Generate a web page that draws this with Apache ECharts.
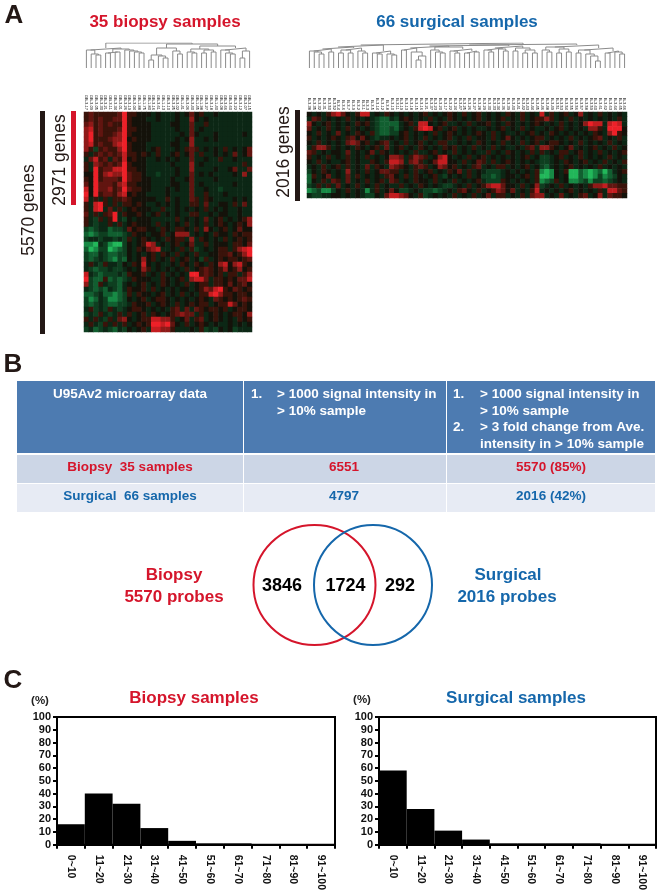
<!DOCTYPE html>
<html><head><meta charset="utf-8">
<script src="https://cdn.jsdelivr.net/npm/echarts@6/dist/echarts.min.js"></script>
<style>html,body{margin:0;padding:0;background:#fff}#c{width:660px;height:893px}</style>
</head><body><div id="c"></div>
<script>
// ---- Data ----
var binLabels = ['0~10','11~20','21~30','31~40','41~50','51~60','61~70','71~80','81~90','91~100'];
var biopsyPct = [16,40,32,13,3,1,1,0,0,0];
var surgicalPct = [58,28,11,4,1,1,1,1,0,0];
var tableHeader = ['U95Av2 microarray data','> 1000 signal intensity in','> 10% sample','> 3 fold change from Ave.','intensity in > 10% sample'];
var tableRowBiopsy = ['Biopsy  35 samples','6551','5570 (85%)'];
var tableRowSurgical = ['Surgical  66 samples','4797','2016 (42%)'];
var vennCounts = ['3846','1724','292'];

var biopsySamples = ['GB-3-17','GB-3-09','GB-3-05','GB-3-30','GB-3-21','GB-3-11','GB-3-34','GB-3-01','GB-3-26','GB-3-19','GB-3-04','GB-1-88','GB-1-75','GB-1-80','GB-3-16','GB-3-61','GB-1-13','GB-3-10','GB-3-25','GB-3-02','GB-1-41','GB-3-06','GB-3-40','GB-1-45','GB-1-98','GB-3-27','GB-3-18','GB-1-40','GB-3-08','GB-3-66','GB-3-60','GB-3-22','GB-3-12','GB-3-07','GB-3-15'];
var surgicalSamples = ['B-3-38','B-3-35','B-3-32','B-3-31','B-3-50','B-3-52','B-3-4','B-3-6','B-3-7','B-3-9','B-3-2','B-3-1','B-3-3','B-3-5','B-3-14','B-3-12','B-3-8','B-3-10','B-3-11','B-3-19','B-3-13','B-3-18','B-3-15','B-3-16','B-3-21','B-3-37','B-3-23','B-3-20','B-3-17','B-3-22','B-3-24','B-3-47','B-3-25','B-3-26','B-3-27','B-3-28','B-3-29','B-3-30','B-3-33','B-3-34','B-3-36','B-3-39','B-3-40','B-3-41','B-3-42','B-3-43','B-3-44','B-3-45','B-3-46','B-3-48','B-3-49','B-3-51','B-3-53','B-3-54','B-3-55','B-3-56','B-3-57','B-3-58','B-3-59','B-3-60','B-3-61','B-3-62','B-3-63','B-3-64','B-3-65','B-3-66'];

// heat levels: 0 = black, 1..5 = red, a..e = green (-1..-5)
var biopsyRows = [
"121111125 1100 0a0a aa0a 0201 aa0a aaaa aa",
"121211225 1000 aa0a aa0a a30a 0aaa aaaa aa",
"231212115 1000 0aaa a00a a2aa 1aaa aaaa aa",
"341211125 1100 0aaa aa0a a2a0 aaaa aaaa aa",
"351211235 1000 0aaa aaa0 a20a aa0a aaaa 0a",
"351112335 0100 0aaa aa0a 03aa 0a0a aaaa aa",
"341211345 1000 aaaa a00a a3aa aaaa aaaa aa",
"31b121135 1000 a01a aa0a 121a 0a0a 1a0a 02",
"1a1212124 1101 0a1a a01a 02a1 aa0a 0a2a 02",
"a2412a214 0100 aa0a 0a0a a2aa 0aa1 aa0a aa",
"1a3212125 1000 aaaa a0aa a3a0 aaaa aaaa 1a",
"1a5122445 1100 aaaa aa0a a3aa aa0a a02a a2",
"005134335 2110 aaba aa0a a2a0 a0aa aa0a 3a",
"105122215 2110 0aaa a0aa 02aa aa0a aaaa aa",
"205222134 1100 0aaa a00a a2a0 aaaa aa0a aa",
"405223125 2110 0aaa 0a0a a2aa 0aab aaaa aa",
"505122134 0100 aaaa 0aaa a2aa 1aaa 0aaa aa",
"4a1a1a112 1000 00aa 1a0a a21a 10aa aa0a 0a",
"1a451a1a1 1010 aa0a 0a0a a11a 2aa0 0a1a 2a",
"1a45a2a1a 0100 0aa1 aa0a 0a0a 1a0a 0aa0 aa",
"2a1a125a1 0010 a01a 0a0a a11a a0a0 0aa0 aa",
"1ab1a15ab 0a00 0aaa aa1a 0a0a 2a01 a0a0 13",
"1abaa1a1a 0100 0a1a 0a0a 1a0a 1a01 0a01 03",
"bcbaacbba 2011 00a1 0a11 0a1a 30a0 1a02 00",
"cdcbbcccb a100 a001 a033 3a0a 0a10 0a10 11",
"baabaabab 1a01 0a0a 1011 a3a1 0a0a 1a01 01",
"ddeabdeeb 0a01 43a0 a01a 02aa 1a00 0a11 02",
"cedbbedcb 0a10 234a a0a1 a1ba 0a01 1a13 45",
"bccabccbb 0a0a 01a1 0a1a 0a1a a001 1201 35",
"bcbabcdbc 0a03 01a0 a1a0 1a0b 1a01 0110 12",
"a1ab1aab0 a104 0a0a a0a1 0a10 a103 4034 10",
"abcbbabba 0a03 1a0a 0a0a 1a01 2101 3013 01",
"4abcbbbab 1001 a0a1 a0a0 a551 2101 a11a 13",
"5bcc1cbcb a100 0aa1 0a01 a344 2a11 0102 24",
"3bc1abbca 0a01 a0a1 0a0a 1a01 1a11 0201 20",
"abcbcabca 1001 a1a0 a0a0 0a01 3245 1021 01",
"ccbaccdcb 1a10 0a01 a0a1 a0a1 1453 1101 10",
"bdcabddcb 0a01 a011 0a0a 0a01 0a21 0101 21",
"bcbabccbb a100 1a01 0a1a 0101 1a01 1420 10",
"a1bab1aba 0110 a0a0 a12a 2a21 0110 1a01 10",
"bab1aba1a 1a01 a10a 0123 22a1 a010 a011 03",
"1a1ab1a23 0a01 1443 31a0 2a12 a010 a0a1 01",
"a1ab1a1a1 a010 1554 520a 1a01 0a0a a0a0 a0",
"bacbabcab 0a01 a443 31aa a0a1 bab0 a0ba aa"
];
var surgicalRows = [
"0a0a13 420a14 4a0a10 a0a0a0 1a0a01 0a1a01 a0a0a1 0a1a0a 4a1a01 a03a0a 1a0a0a",
"a21a0a 0a1a0a 0abcca b010a0 a1a0a1 0a0a01 a0a01a 0a1a01 131a0a 1a0a0a 0a0a1a",
"30a01a 0a0a10 1abccc ca01a4 40a01a a0a1a0 01a0a1 0a0a01 0a0a1a 0a0354 4a454a",
"2a0a1a 0a1a0a 0abccb ca0a14 5401a0 1a0a0a a0a01a 0a1a0a a0a01a 0a0a33 1a5550",
"0a1a0a 2a0a10 a1bccb b01a0a 0a1a01 0a0a01 0a1a0a a0a01a 0a10a0 a0a0a1 0a3510",
"1a0a01 0a1202 0abaa0 a01a0a 1a0a01 a0a1a0 0a1a02 0a0a01 1a0a0a 1a0a01 2a0a1a",
"0a1a0a 0a2320 1a012a 0a1a01 a0a11a a0a0a1 0a0a1a 0a1a01 a0110a 0a1a0a 0a1a0a",
"a1331a 0a0a10 a01a2a 01a0a1 0a0a10 1a0a1a 0a1a0a a0a12a 3310a0 2a0a01 a0a1a0",
"21a0a0 0a2a0a 02a10a 0a0a1a a01a0a 1a0a0a a1a0a1 0a0a1a 1a0a11 a01a0a 1a0a01",
"1a0a1a 0a1a0a 1a0a03 32a132 1a0340 a0a1a0 1a0a0a 0a01a0 bba01a 0a1a0a 0a1a0a",
"0a1a0a a01a0a a10a14 43a231 a02440 0a1a02 1a1a01 0a0a0a bba0a1 0a01a0 a1a0a1",
"a0a1a0 1a1a0a 2a10a3 210a12 1a0320 1a0a12 a0a11a 0a01a0 bca0a0 1a0a0a 1a0a0a",
"b0a10a 0a3a0a 1a0221 1a0a1a 01a0a1 02a1a0 abbba0 a0a0a1 ded0a1 eecded ceca01",
"c1a02a 0a2a1a 0a0a12 0a1a10 a01ab0 a0a1a0 bbcba0 0a01a1 eed0a0 eecded bdcb0a",
"c0a1a2 1a2a0a 1a01a2 1a0a10 0a1a0a 1a0a01 abbb10 a0a0a1 dcb1a0 ddcbdb bcba0a",
"ba1a1a 2a0a1a 0a1a0a a1a0a1 0a0abb a0a1a0 134420 0a1a03 ba0a1a 0a0a13 342211",
"dcbddb 0a1a0a da1a02 0bba0a bbcba0 a120a1 a01320 2a0a14 a0a0a0 1a0a0a 1a4421",
"abbaa0 0a0a0a bb0a24 4320a1 ba0a0a 1a0a1a 02a11a 0a1a23 3a0a2a 0a12a0 3a2110"
];

// dendrograms: [mergeHeight, left, right]; 0 is a leaf
var biopsyTree = [25,
  [20,[18,0,[14,0,[13,0,0]]],[19,[16,[15,0,0],[16,0,0]],[18,0,[17,0,[16,0,[15,0,0]]]]]],
  [24,[20,[13,[8,0,0],[12,0,[10,0,0]]],[17,0,[14,0,0]]],
      [22,[19,[16,0,[15,0,0]],[18,[15,0,0],[16,0,0]]],[20,[18,0,[15,0,[14,0,0]]],[17,[10,0,0],0]]]]];
var surgicalTree = [25,
  [23,[21,[19,[17,0,[16,0,[14,0,0]]],[16,0,0]],[20,[18,[15,0,0],[15,0,0]],[17,0,[15,0,0]]]],[17,[15,0,[14,0,0]],[14,0,[13,0,0]]]],
  [24,[23,[22,[20,[18,0,0],[16,0,[12,[8,0,0],0]]],[21,[18,0,[16,0,[15,0,0]]],[19,[17,0,[15,0,0]],[17,[15,0,0],[16,0,0]]]]],
          [22,[20,[18,0,[16,0,0]],[19,0,[17,0,0]]],[20,[17,0,0],[18,[15,0,0],[15,0,0]]]]],
      [23,[21,[18,0,[16,0,0]],[19,[15,0,0],[16,0,0]]],[20,[18,[15,0,0],[14,0,[12,0,[7,0,0]]]],[17,[15,0,0],[16,0,[14,0,0]]]]]]];

// ---- Helpers ----
var SANS = '"Liberation Sans",Arial,sans-serif';
var RED = '#d5152b', BLUE = '#1567ab', INK = '#231815';
function level(ch){ if(ch>='0'&&ch<='5') return +ch; return -(ch.charCodeAt(0)-96); }
function heatData(rows){
  var out=[];
  rows.forEach(function(r,y){ r.replace(/ /g,'').split('').forEach(function(c,x){ out.push([x,y,level(c)]); }); });
  return out;
}
function treeLines(tree){
  var pts=[], leaf=0;
  function walk(n){
    if(n===0){ var x=leaf+0.5; leaf++; return [x,0]; }
    var a=walk(n[1]), b=walk(n[2]), h=n[0];
    pts.push([a[0],a[1]],[a[0],h],[b[0],h],[b[0],b[1]],['-','-']);
    return [(a[0]+b[0])/2,h];
  }
  walk(tree);
  return pts;
}
function rng(n){ var a=[]; for(var i=0;i<n;i++) a.push(i); return a; }

var grids=[], xAxes=[], yAxes=[], series=[];
function addDendro(left,width,n,tree){
  var i=grids.length;
  grids.push({left:left,top:43,width:width,height:25,containLabel:false});
  xAxes.push({gridIndex:i,type:'value',min:0,max:n,show:false});
  yAxes.push({gridIndex:i,type:'value',min:0,max:25,show:false});
  series.push({type:'line',xAxisIndex:i,yAxisIndex:i,data:treeLines(tree),showSymbol:false,symbol:'none',silent:true,animation:false,
    connectNulls:false,lineStyle:{color:'#8a8a8a',width:1}});
}
function addHeat(left,top,width,height,names,rows){
  var i=grids.length;
  grids.push({left:left,top:top,width:width,height:height});
  xAxes.push({gridIndex:i,type:'category',position:'top',data:names,axisLine:{show:false},axisTick:{show:false},splitLine:{show:false},
    axisLabel:{interval:0,rotate:90,fontSize:4,margin:2,color:'#000',fontFamily:SANS}});
  yAxes.push({gridIndex:i,type:'category',inverse:true,data:rng(rows.length),show:false});
  series.push({type:'heatmap',xAxisIndex:i,yAxisIndex:i,data:heatData(rows),silent:true,animation:false,progressive:0,
    itemStyle:{borderWidth:0},emphasis:{disabled:true}});
}
function addBars(left,top,width,height,vals){
  var i=grids.length;
  grids.push({left:left,top:top,width:width,height:height,show:true,borderColor:'#000',borderWidth:2,backgroundColor:'#fff',z:0});
  xAxes.push({gridIndex:i,type:'category',data:binLabels,
    axisLine:{lineStyle:{color:'#000',width:2}},axisTick:{show:true,length:4,lineStyle:{color:'#000',width:2}},
    axisLabel:{interval:0,rotate:-90,fontSize:10.5,fontWeight:'bold',color:'#111',margin:10,fontFamily:SANS},splitLine:{show:false}});
  yAxes.push({gridIndex:i,type:'value',min:0,max:100,interval:10,
    axisLine:{show:true,lineStyle:{color:'#000',width:2}},axisTick:{show:true,length:4,lineStyle:{color:'#000',width:2}},
    axisLabel:{fontSize:11,fontWeight:'bold',color:'#111',margin:6,fontFamily:SANS},splitLine:{show:false}});
  series.push({type:'bar',xAxisIndex:i,yAxisIndex:i,data:vals,barWidth:'100%',silent:true,animation:false,itemStyle:{color:'#000'}});
}
addDendro(84,168,35,biopsyTree);
addDendro(307,320,66,surgicalTree);
addHeat(84,112,168,220,biopsySamples,biopsyRows);
addHeat(307,112,320,86,surgicalSamples,surgicalRows);
addBars(57,717,278,128,biopsyPct);
addBars(379,717,277,128,surgicalPct);

function txt(s,x,y,size,color,o){
  o=o||{};
  return {type:'text',x:x,y:y,rotation:o.rot||0,z:20,silent:true,style:{text:s,fill:color,fontSize:size,fontWeight:o.w||'bold',
    fontFamily:SANS,align:o.align||'center',verticalAlign:'middle'}};
}
function rect(x,y,w,h,c){ return {type:'rect',shape:{x:x,y:y,width:w,height:h},style:{fill:c},silent:true,z:10}; }
var HEAD='#4d7bb1', ROW1='#ccd6e6', ROW2='#e7ebf4', W='#fff';
var T=13.5;
var gfx=[
  txt('A',14,16,26,INK), txt('B',13,365,26,INK), txt('C',13,681,26,INK),
  txt('35 biopsy samples',165,22,17,RED),
  txt('66 surgical samples',457,22,17,BLUE),
  rect(40,111,5,223,INK), rect(71,111,5,94,RED), rect(295,110,5,91,INK),
  txt('5570 genes',29,210,17.5,INK,{rot:Math.PI/2,w:'normal'}),
  txt('2971 genes',60,160,17.5,INK,{rot:Math.PI/2,w:'normal'}),
  txt('2016 genes',284,152,17.5,INK,{rot:Math.PI/2,w:'normal'}),
  // table
  rect(17,381,226,72,HEAD), rect(244,381,202,72,HEAD), rect(447,381,208,72,HEAD),
  rect(17,455,226,28,ROW1), rect(244,455,202,28,ROW1), rect(447,455,208,28,ROW1),
  rect(17,484,226,28,ROW2), rect(244,484,202,28,ROW2), rect(447,484,208,28,ROW2),
  txt(tableHeader[0],130,394,T,W),
  txt('1.',251,394,T,W,{align:'left'}), txt(tableHeader[1],277,394,T,W,{align:'left'}), txt(tableHeader[2],277,411,T,W,{align:'left'}),
  txt('1.',453,394,T,W,{align:'left'}), txt(tableHeader[1],480,394,T,W,{align:'left'}), txt(tableHeader[2],480,411,T,W,{align:'left'}),
  txt('2.',453,427,T,W,{align:'left'}), txt(tableHeader[3],480,427,T,W,{align:'left'}), txt(tableHeader[4],480,444,T,W,{align:'left'}),
  txt(tableRowBiopsy[0],130,467,T,RED), txt(tableRowBiopsy[1],344,467,T,RED), txt(tableRowBiopsy[2],551,467,T,RED),
  txt(tableRowSurgical[0],130,496,T,BLUE), txt(tableRowSurgical[1],344,496,T,BLUE), txt(tableRowSurgical[2],551,496,T,BLUE),
  // venn
  {type:'ellipse',shape:{cx:314.5,cy:585,rx:61,ry:60},style:{fill:'none',stroke:RED,lineWidth:2},silent:true,z:10},
  {type:'ellipse',shape:{cx:373,cy:585,rx:59,ry:60},style:{fill:'none',stroke:BLUE,lineWidth:2},silent:true,z:11},
  txt(vennCounts[0],282,586,18,'#000'), txt(vennCounts[1],345.5,586,18,'#000'), txt(vennCounts[2],400,586,18,'#000'),
  txt('Biopsy',174,575,17,RED), txt('5570 probes',174,597,17,RED),
  txt('Surgical',508,575,17,BLUE), txt('2016 probes',507,597,17,BLUE),
  // panel C captions
  txt('(%)',40,701,11.5,'#222'), txt('(%)',362,700,11.5,'#222'),
  txt('Biopsy samples',194,698,17,RED), txt('Surgical samples',516,698,17,BLUE)
];

var chart=echarts.init(document.getElementById('c'),null,{renderer:'canvas'});
chart.setOption({
  animation:false, backgroundColor:'#fff',
  grid:grids, xAxis:xAxes, yAxis:yAxes, series:series, graphic:{elements:gfx},
  visualMap:{show:false,type:'continuous',min:-5,max:5,seriesIndex:[2,3],dimension:2,
    inRange:{color:['#22b75a','#178a45','#115f30','#0e3f20','#0c2715','#14120a','#3a130a','#611510','#8f1a18','#c41d20','#ee2028']}}
});
</script></body></html>
